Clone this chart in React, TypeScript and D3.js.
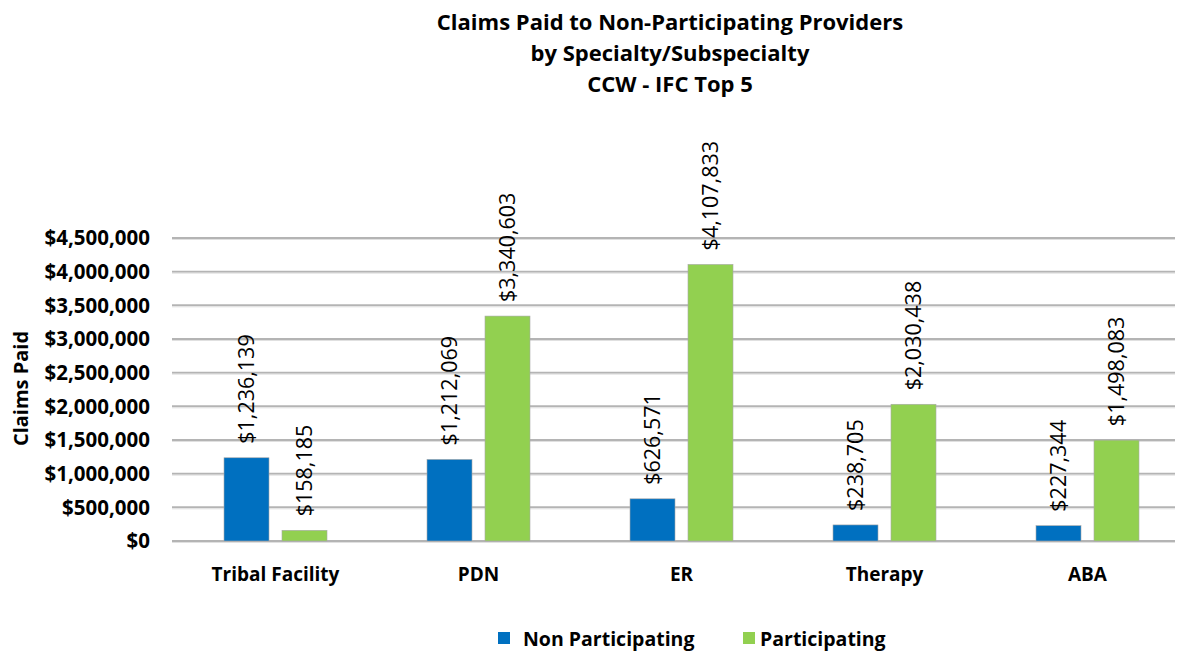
import React from "react";
import * as d3 from "d3";

const categories = ["Tribal Facility", "PDN", "ER", "Therapy", "ABA"];
const seriesNames = ["Non Participating", "Participating"];
const nonParticipating = [1236139, 1212069, 626571, 238705, 227344];
const participating = [158185, 3340603, 4107833, 2030438, 1498083];
const yTicks = [0, 500000, 1000000, 1500000, 2000000, 2500000, 3000000, 3500000, 4000000, 4500000];
const titleLines = [
  "Claims Paid to Non-Participating Providers",
  "by Specialty/Subspecialty",
  "CCW - IFC Top 5",
];
const colors = ["#0070C0", "#92D050"];

const W = 1180;
const H = 652;
const FONT = "'Open Sans', Lato, sans-serif";

export default function App() {
  const left = 174;
  const right = 1175;
  const y = d3.scaleLinear().domain([0, 4500000]).range([541, 238]);
  const x0 = d3.scaleBand().domain(categories).range([174, 1189]).paddingInner(0).paddingOuter(0);
  const x1 = d3.scaleBand().domain(seriesNames).range([-51.5, 51.5]).paddingInner(0.224).paddingOuter(0);
  const fmt = (v: number) => "$" + d3.format(",")(v);
  const series = [nonParticipating, participating];

  return (
    <svg width={W} height={H} style={{ position: "absolute", left: 0, top: 0, background: "#fff" }}>
      <rect width={W} height={H} fill="#fff" />
      {titleLines.map((t, i) => (
        <text key={i} x={670} y={30 + i * 31} textAnchor="middle" fontFamily={FONT} fontWeight="bold" fontSize={22} fill="#000">
          {t}
        </text>
      ))}
      {yTicks.map((t) => (
        <g key={t}>
          <line x1={left - 2} x2={right} y1={y(t)} y2={y(t)} stroke="#b4b4b4" strokeWidth={2} />
          <line x1={left - 2} x2={right} y1={y(t) + 1.5} y2={y(t) + 1.5} stroke="#e0e0e0" strokeWidth={1} />
          <text x={150} y={y(t)} dy="0.36em" textAnchor="end" fontFamily={FONT} fontWeight="bold" fontSize={20.5} fill="#000">
            {fmt(t)}
          </text>
        </g>
      ))}
      <text transform={`translate(21,${y(2250000) - 1}) rotate(-90)`} dy="0.35em" textAnchor="middle" fontFamily={FONT} fontWeight="bold" fontSize={20} fill="#000">
        Claims Paid
      </text>
      {categories.map((c, ci) => {
        const cx = (x0(c) as number) + x0.bandwidth() / 2;
        return (
          <g key={c}>
            {series.map((s, si) => {
              const bx = cx + (x1(seriesNames[si]) as number);
              const bw = x1.bandwidth();
              const v = s[ci];
              return (
                <g key={si}>
                  <rect x={bx} y={y(v)} width={bw} height={y(0) - y(v)} fill={colors[si]} stroke="#a8a8a8" strokeWidth={0.6} />
                  <text
                    transform={`translate(${bx + bw / 2},${y(v) - 14}) rotate(-90)`}
                    dy="0.35em"
                    textAnchor="start"
                    fontFamily={FONT}
                    fontSize={21.5}
                    fill="#000"
                  >
                    {fmt(v)}
                  </text>
                </g>
              );
            })}
            <text x={cx} y={581} textAnchor="middle" fontFamily={FONT} fontWeight="bold" fontSize={19} fill="#000">
              {c}
            </text>
          </g>
        );
      })}
      {seriesNames.map((n, i) => {
        const lx = [498, 743][i];
        return (
          <g key={n}>
            <rect x={lx} y={632} width={12} height={12} fill={colors[i]} />
            <text x={lx + (i === 0 ? 25 : 17)} y={646} fontFamily={FONT} fontWeight="bold" fontSize={19.5} fill="#000">
              {n}
            </text>
          </g>
        );
      })}
    </svg>
  );
}
